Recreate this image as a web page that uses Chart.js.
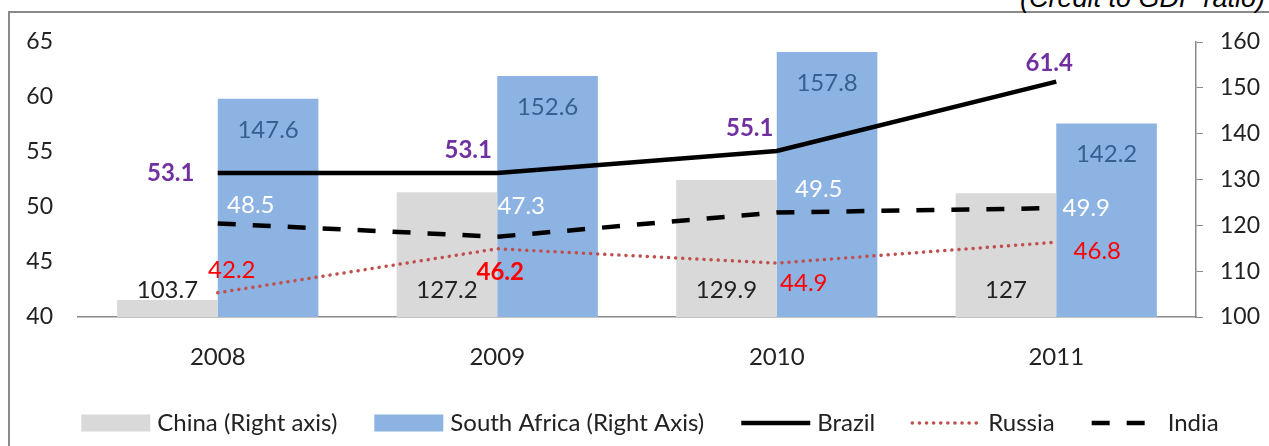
<!DOCTYPE html>
<html lang="en">
<head>
<meta charset="UTF-8">
<title>Credit to GDP ratio</title>
<script src="https://cdn.jsdelivr.net/npm/chart.js"></script>
<style>
    body { margin: 0; background: #fff; }
    .wrap { position: relative; width: 1269px; height: 446px; overflow: hidden; background: #fff; }
    .frame { position: absolute; left: 8px; top: 11px; width: 3000px; height: 3000px;
             border-left: 2px solid #8a8a8a; border-top: 2px solid #8a8a8a; }
    .note { position: absolute; left: 1020px; top: -17px; line-height: 27px; white-space: nowrap;
            font: italic 27px 'Liberation Sans', Arial, sans-serif; color: #000; }
    canvas { position: absolute; left: 0; top: 0; }
</style>
</head>
<body>
<div class="wrap">
    <div class="frame"></div>
    <div class="note">(Credit to GDP ratio)</div>
    <canvas id="chart" width="1269" height="446"></canvas>
</div>
<script>
    const years = ['2008', '2009', '2010', '2011'];
    const china = [103.7, 127.2, 129.9, 127];
    const southAfrica = [147.6, 152.6, 157.8, 142.2];
    const brazil = [53.1, 53.1, 55.1, 61.4];
    const russia = [42.2, 46.2, 44.9, 46.8];
    const india = [48.5, 47.3, 49.5, 49.9];
    const leftTicks = [40, 45, 50, 55, 60, 65];
    const rightTicks = [100, 110, 120, 130, 140, 150, 160];
    const legendOrder = ['China (Right axis)', 'South Africa (Right Axis)', 'Brazil', 'Russia', 'India'];

    const FONT = 'Lato, "Open Sans", sans-serif';

    // data labels next to each bar / point
    const valueLabels = {
        id: 'valueLabels',
        afterDatasetsDraw(chart) {
            const ctx = chart.ctx;
            ctx.save();
            ctx.textAlign = 'center';
            ctx.textBaseline = 'middle';
            chart.data.datasets.forEach((ds, i) => {
                const lab = ds.valueLabel;
                if (!lab) return;
                const scale = chart.scales[ds.yAxisID];
                chart.getDatasetMeta(i).data.forEach((el, j) => {
                    const p = el.getProps(['x', 'y'], true);
                    let x = p.x, y = p.y;
                    if (lab.from === 'base') y = scale.getPixelForValue(scale.min) + lab.dy;
                    else if (lab.from === 'top') y = p.y + lab.dy;
                    else { x += lab.offsets[j][0]; y += lab.offsets[j][1]; }
                    const bold = lab.bold || (lab.boldIndex || []).includes(j);
                    ctx.font = (bold ? 'bold ' : '') + '24px ' + FONT;
                    ctx.fillStyle = lab.color;
                    ctx.fillText(String(ds.data[j]), x, y);
                });
            });
            ctx.restore();
        }
    };

    // legend along the bottom, in the original order
    const bottomLegend = {
        id: 'bottomLegend',
        afterDraw(chart) {
            const ctx = chart.ctx;
            const sw = 69, gapText = 7, gapItem = 37, y = 423;
            ctx.save();
            ctx.font = '24px ' + FONT;
            ctx.textBaseline = 'middle';
            const items = legendOrder.map(name => chart.data.datasets.find(d => d.label === name));
            let total = 0;
            items.forEach((d, k) => { total += sw + gapText + ctx.measureText(d.label).width + (k ? gapItem : 0); });
            let x = 650 - total / 2;
            items.forEach(d => {
                if (d.type === 'line') {
                    ctx.beginPath();
                    ctx.setLineDash(d.borderDash || []);
                    ctx.lineCap = d.borderCapStyle || 'butt';
                    ctx.lineWidth = d.borderWidth;
                    ctx.strokeStyle = d.borderColor;
                    ctx.moveTo(x, y);
                    ctx.lineTo(x + sw, y);
                    ctx.stroke();
                    ctx.setLineDash([]);
                } else {
                    ctx.fillStyle = d.backgroundColor;
                    ctx.fillRect(x, y - 8.5, sw, 17);
                }
                ctx.fillStyle = '#222';
                ctx.fillText(d.label, x + sw + gapText, y);
                x += sw + gapText + ctx.measureText(d.label).width + gapItem;
            });
            ctx.restore();
        }
    };

    new Chart(document.getElementById('chart'), {
        type: 'bar',
        data: {
            labels: years,
            datasets: [
                {
                    type: 'line', label: 'Brazil', data: brazil, yAxisID: 'y',
                    borderColor: '#000', borderWidth: 4.5, pointRadius: 0, tension: 0,
                    valueLabel: { color: '#7030A0', bold: true, offsets: [[-47, 0], [-29, -23], [-27, -23], [-7, -18]] }
                },
                {
                    type: 'line', label: 'India', data: india, yAxisID: 'y',
                    borderColor: '#000', borderWidth: 4.5, borderDash: [18, 17], pointRadius: 0, tension: 0,
                    valueLabel: { color: '#fff', offsets: [[33, -18], [24, -30], [42, -23], [30, 0]] }
                },
                {
                    type: 'line', label: 'Russia', data: russia, yAxisID: 'y',
                    borderColor: '#C0504D', borderWidth: 3.5, borderDash: [0.1, 7], borderCapStyle: 'round',
                    pointRadius: 0, tension: 0,
                    valueLabel: { color: '#FF0000', boldIndex: [1], offsets: [[14, -23], [3, 23], [27, 20], [41, 9]] }
                },
                {
                    label: 'China (Right axis)', data: china, yAxisID: 'y1',
                    backgroundColor: '#D9D9D9', categoryPercentage: 0.72, barPercentage: 1,
                    valueLabel: { color: '#222', from: 'base', dy: -27 }
                },
                {
                    label: 'South Africa (Right Axis)', data: southAfrica, yAxisID: 'y1',
                    backgroundColor: '#8DB3E2', categoryPercentage: 0.72, barPercentage: 1,
                    valueLabel: { color: '#376092', from: 'top', dy: 31 }
                }
            ]
        },
        options: {
            responsive: false,
            animation: false,
            layout: { padding: { top: 42, right: 0, bottom: 0, left: 0 } },
            plugins: { legend: { display: false }, tooltip: { enabled: false } },
            scales: {
                x: {
                    grid: { display: false, drawTicks: false },
                    border: { display: true, color: '#8a8a8a', width: 1.5 },
                    ticks: { color: '#222', font: { family: FONT, size: 24 }, padding: 26 },
                    afterFit: s => { s.height = 446 - 42 - 275; }
                },
                y: {
                    position: 'left', min: 40, max: 65,
                    grid: { display: false, drawTicks: false },
                    border: { display: false },
                    ticks: { color: '#222', font: { family: FONT, size: 23 }, padding: 25 },
                    afterBuildTicks: s => { s.ticks = leftTicks.map(v => ({ value: v })); },
                    afterFit: s => { s.width = 78; }
                },
                y1: {
                    position: 'right', min: 100, max: 160,
                    grid: { drawOnChartArea: false, drawTicks: true, tickLength: 7, color: '#8a8a8a' },
                    border: { display: true, color: '#8a8a8a', width: 1.5 },
                    ticks: { color: '#222', font: { family: FONT, size: 23 }, padding: 17 },
                    afterBuildTicks: s => { s.ticks = rightTicks.map(v => ({ value: v })); },
                    afterFit: s => { s.width = 1269 - 1196; }
                }
            }
        },
        plugins: [valueLabels, bottomLegend]
    });
</script>
</body>
</html>
